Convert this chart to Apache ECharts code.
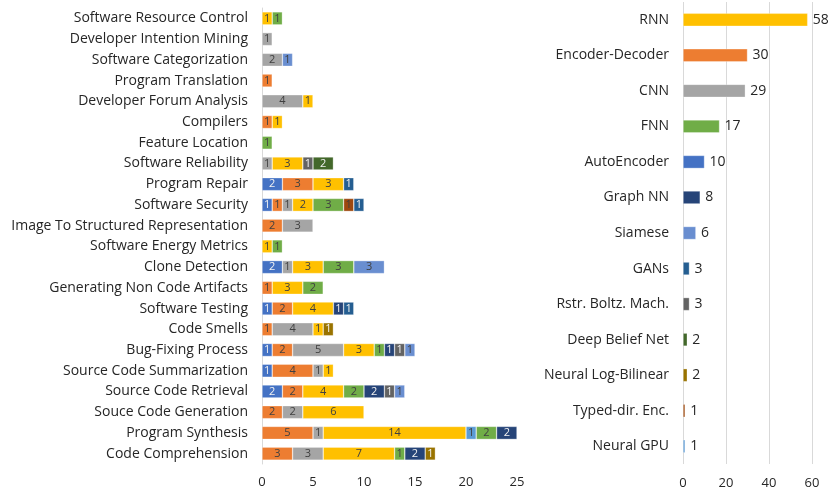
<!DOCTYPE html>
<html>
<head>
<meta charset="utf-8">
<script src="https://cdn.jsdelivr.net/npm/echarts@6/dist/echarts.min.js"></script>
<style>
  html, body { margin: 0; padding: 0; background: #fff; }
  #container { width: 831px; height: 493px; }
</style>
</head>
<body>
<div id="container"></div>
<script>
'use strict';
// tasks, listed top to bottom as in the picture
var tasks = [
  'Software Resource Control', 'Developer Intention Mining', 'Software Categorization',
  'Program Translation', 'Developer Forum Analysis', 'Compilers', 'Feature Location',
  'Software Reliability', 'Program Repair', 'Software Security',
  'Image To Structured Representation', 'Software Energy Metrics', 'Clone Detection',
  'Generating Non Code Artifacts', 'Software Testing', 'Code Smells', 'Bug-Fixing Process',
  'Source Code Summarization', 'Source Code Retrieval', 'Souce Code Generation',
  'Program Synthesis', 'Code Comprehension'
];
var _ = null;
// architecture counts per task (same order as tasks)
var autoEncoder  = [_,_,_,_,_,_,_,_,2,1,_,_,2,_,1,_,1,1,2,_,_,_];
var encDec       = [_,_,_,1,_,1,_,_,3,1,2,_,_,1,2,1,2,4,2,2,5,3];
var cnn          = [_,1,2,_,4,_,_,1,_,1,3,_,1,_,_,4,5,1,_,2,1,3];
var rnn          = [1,_,_,_,1,1,_,3,3,2,_,1,3,3,4,1,3,1,4,6,14,7];
var neuralGpu    = [_,_,_,_,_,_,_,_,_,_,_,_,_,_,_,_,_,_,_,_,1,_];
var fnn          = [1,_,_,_,_,_,1,_,_,3,_,1,3,2,_,_,1,_,2,_,2,1];
var typedDirEnc  = [_,_,_,_,_,_,_,_,_,1,_,_,_,_,_,_,_,_,_,_,_,_];
var graphNN      = [_,_,_,_,_,_,_,_,_,_,_,_,_,_,1,_,1,_,2,_,2,2];
var gans         = [_,_,_,_,_,_,_,_,1,1,_,_,_,_,1,_,_,_,_,_,_,_];
var rbm          = [_,_,_,_,_,_,_,1,_,_,_,_,_,_,_,_,1,_,1,_,_,_];
var siamese      = [_,_,1,_,_,_,_,_,_,_,_,_,3,_,_,_,1,_,1,_,_,_];
var deepBelief   = [_,_,_,_,_,_,_,2,_,_,_,_,_,_,_,_,_,_,_,_,_,_];
var neuralLogBil = [_,_,_,_,_,_,_,_,_,_,_,_,_,_,_,1,_,_,_,_,_,1];

// right panel: architecture totals, top to bottom
var archNames = ['RNN', 'Encoder-Decoder', 'CNN', 'FNN', 'AutoEncoder', 'Graph NN', 'Siamese',
  'GANs', 'Rstr. Boltz. Mach.', 'Deep Belief Net', 'Neural Log-Bilinear', 'Typed-dir. Enc.', 'Neural GPU'];
var archTotals = [58, 30, 29, 17, 10, 8, 6, 3, 3, 2, 2, 1, 1];

var colors = {
  'AutoEncoder': '#4472C4', 'Encoder-Decoder': '#ED7D31', 'CNN': '#A5A5A5', 'RNN': '#FFC000',
  'Neural GPU': '#5B9BD5', 'FNN': '#70AD47', 'Typed-dir. Enc.': '#9E480E', 'Graph NN': '#264478',
  'GANs': '#255E91', 'Rstr. Boltz. Mach.': '#636363', 'Siamese': '#698ED0',
  'Deep Belief Net': '#43682B', 'Neural Log-Bilinear': '#997300'
};
var lightText = ['AutoEncoder', 'Graph NN', 'GANs', 'Rstr. Boltz. Mach.', 'Deep Belief Net', 'Neural Log-Bilinear'];

var stacks = [
  ['AutoEncoder', autoEncoder], ['Encoder-Decoder', encDec], ['CNN', cnn], ['RNN', rnn],
  ['Neural GPU', neuralGpu], ['FNN', fnn], ['Typed-dir. Enc.', typedDirEnc], ['Graph NN', graphNN],
  ['GANs', gans], ['Rstr. Boltz. Mach.', rbm], ['Siamese', siamese],
  ['Deep Belief Net', deepBelief], ['Neural Log-Bilinear', neuralLogBil]
];

var FONT = 'Open Sans';
var series = stacks.map(function (s) {
  return {
    name: s[0],
    type: 'bar',
    stack: 'tasks',
    xAxisIndex: 0,
    yAxisIndex: 0,
    barWidth: 13,
    data: s[1],
    itemStyle: { color: colors[s[0]], borderColor: 'rgba(255,255,255,0.5)', borderWidth: 0.6 },
    label: {
      show: true,
      position: 'inside',
      fontFamily: FONT,
      fontSize: 11,
      color: lightText.indexOf(s[0]) >= 0 ? '#f2f2f2' : '#404040'
    }
  };
});

series.push({
  type: 'bar',
  xAxisIndex: 1,
  yAxisIndex: 1,
  barWidth: 13,
  data: archTotals.map(function (v, i) {
    return { value: v, itemStyle: { color: colors[archNames[i]] } };
  }),
  itemStyle: { borderColor: 'rgba(255,255,255,0.5)', borderWidth: 0.6 },
  label: { show: true, position: 'right', distance: 5, fontFamily: FONT, fontSize: 14, color: '#262626' }
});

var myChart = echarts.init(document.getElementById('container'));
myChart.setOption({
  animation: false,
  textStyle: { fontFamily: FONT },
  grid: [
    { left: 262, right: 314, top: 8, bottom: 29 },
    { left: 683, right: 19, top: 2, bottom: 29 }
  ],
  xAxis: [
    {
      gridIndex: 0, type: 'value', min: 0, max: 25, interval: 5,
      axisLine: { show: false }, axisTick: { show: false }, splitLine: { show: false },
      axisLabel: { fontFamily: FONT, fontSize: 13, color: '#262626', margin: 12 }
    },
    {
      gridIndex: 1, type: 'value', min: 0, max: 60, interval: 20,
      axisLine: { show: false }, axisTick: { show: false },
      splitLine: { show: true, lineStyle: { color: '#D9D9D9' } },
      axisLabel: { fontFamily: FONT, fontSize: 13, color: '#262626', margin: 13 }
    }
  ],
  yAxis: [
    {
      gridIndex: 0, type: 'category', data: tasks, inverse: true,
      axisLine: { show: true, lineStyle: { color: '#D9D9D9' } }, axisTick: { show: false },
      axisLabel: { fontFamily: FONT, fontSize: 14, color: '#262626', margin: 14 }
    },
    {
      gridIndex: 1, type: 'category', data: archNames, inverse: true,
      axisLine: { show: false }, axisTick: { show: false },
      axisLabel: { fontFamily: FONT, fontSize: 14, color: '#262626', margin: 14 }
    }
  ],
  series: series
});
</script>
</body>
</html>
